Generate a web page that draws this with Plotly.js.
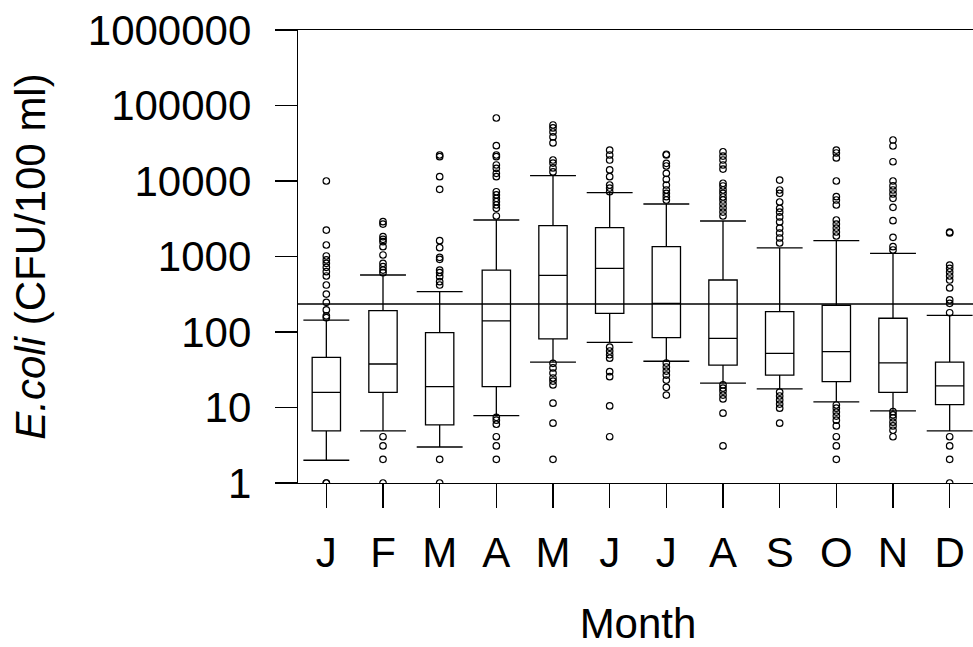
<!DOCTYPE html>
<html>
<head>
<meta charset="utf-8">
<script src="https://cdn.plot.ly/plotly-3.0.1.min.js"></script>
<style>
  html, body { margin: 0; padding: 0; overflow: hidden; background: #fff; }
  #chart { width: 980px; height: 647px; }
</style>
</head>
<body>
<div id="chart"></div>
<script>
// ---- Data ----
const months = ["Jan","Feb","Mar","Apr","May","Jun","Jul","Aug","Sep","Oct","Nov","Dec"];
const tickLabels = ["J","F","M","A","M","J","J","A","S","O","N","D"];

const lowerWhisker = [2, 4.9, 3, 7.8, 40, 73, 41, 21, 17.7, 11.9, 9, 4.9];
const q1Values     = [4.9, 15.9, 5.9, 18.9, 81, 177, 84, 36.5, 26.9, 22, 15.9, 10.9];
const medianValues = [15.9, 37.7, 18.9, 140, 564, 697, 240, 82.5, 52, 55, 39, 19.3];
const q3Values     = [46, 192, 98, 662, 2560, 2407, 1349, 488, 186, 226, 152, 40];
const upperWhisker = [144, 569, 342, 3043, 11750, 7000, 4960, 2952, 1297, 1619, 1102, 166];

const outlierValues = [
  // Jan
  [10000, 2240, 1420, 1016, 900, 813, 719, 629, 552, 419, 318, 247, 196, 164, 155, 1, 1],
  // Feb
  [2890, 2690, 1830, 1690, 1570, 1350, 1047, 813, 733, 662, 610, 4.1, 3.1, 2.06, 1],
  // Mar
  [22100, 21000, 11400, 7760, 1619, 1308, 975, 918, 662, 610, 540, 464, 419, 2.06, 1],
  // Apr
  [68300, 29400, 22100, 21000, 16300, 14700, 12650, 11400, 7210, 6530, 5900, 5320, 4810, 4350, 3440,
   7.4, 6.8, 6.0, 4.1, 3.1, 2.06],
  // May
  [55200, 50400, 44600, 38300, 31900, 18970, 17300, 14900, 13200,
   38.5, 33.4, 28.6, 24.6, 22.4, 19.9, 11.4, 6.2, 2.06],
  // Jun
  [25700, 22100, 18970, 14000, 11400, 8850, 8070, 7210,
   63, 56, 50, 45, 29.8, 25.6, 10.5, 4.1],
  // Jul
  [22600, 22100, 17150, 15800, 12650, 10540, 8850, 7600, 6870, 6200, 5600,
   38.8, 34.4, 30.4, 26.9, 23.1, 18.5, 14.6],
  // Aug
  [24400, 21400, 18970, 16300, 14400, 9330, 8590, 7600, 6870, 6140, 5600, 4960, 4390, 3880, 3440,
   19.9, 18.1, 16.5, 14.6, 13, 8.4, 3.1],
  // Sep
  [10300, 7600, 6870, 5270, 4350, 3880, 3340, 2865, 2383, 2047, 1758, 1510,
   16, 14.2, 12.6, 11.1, 9.8, 6.2],
  // Oct
  [25700, 23500, 20200, 10000, 6200, 5600, 4810, 3043, 2690, 2383, 2112, 1870,
   10.8, 9.8, 8.7, 7.7, 6.8, 5.7, 4.1, 3.1, 2.06],
  // Nov
  [34900, 29100, 18000, 10000, 8600, 7600, 6730, 5900, 4485, 2980, 1796, 1349, 1220,
   8.8, 8, 7.3, 6.4, 5.7, 5.0, 4.1],
  // Dec
  [2100, 2050, 771, 698, 623, 552, 488, 383, 266, 240, 180, 4.1, 3.1, 2.06, 1]
];

const standardValue = 235;
const yTickValues = [1, 10, 100, 1000, 10000, 100000, 1000000];
const yTickLabels = ["1", "10", "100", "1000", "10000", "100000", "1000000"];

// ---- Build traces ----
const idx = months.map((m, i) => i);
const FONT = "Liberation Sans, Arial, Helvetica, sans-serif";
const capHalf = 0.405;

const boxTrace = {
  type: "box",
  x: idx,
  q1: q1Values,
  median: medianValues,
  q3: q3Values,
  lowerfence: lowerWhisker,
  upperfence: upperWhisker,
  boxpoints: false,
  width: 0.5,
  whiskerwidth: 0,
  fillcolor: "rgba(0,0,0,0)",
  line: { color: "#000", width: 1.3 },
  hoverinfo: "skip",
  showlegend: false
};

const capX = [], capY = [];
idx.forEach(i => {
  capX.push(i - capHalf, i + capHalf, null, i - capHalf, i + capHalf, null);
  capY.push(upperWhisker[i], upperWhisker[i], null, lowerWhisker[i], lowerWhisker[i], null);
});
const capTrace = {
  type: "scatter", mode: "lines", x: capX, y: capY,
  line: { color: "#000", width: 1.3 }, hoverinfo: "skip", showlegend: false
};

const outX = [], outY = [];
outlierValues.forEach((vals, i) => vals.forEach(v => { outX.push(i); outY.push(v); }));
const outlierTrace = {
  type: "scatter", mode: "markers", x: outX, y: outY,
  marker: { symbol: "circle-open", size: 6.5, color: "#000", line: { width: 1.2, color: "#000" } },
  hoverinfo: "skip", showlegend: false, cliponaxis: true
};

const layout = {
  width: 980, height: 647,
  margin: { l: 298, r: 2, t: 30, b: 164 },
  paper_bgcolor: "#fff", plot_bgcolor: "#fff",
  font: { family: FONT, size: 42, color: "#000" },
  showlegend: false,
  xaxis: {
    range: [-0.5, 11.5],
    tickmode: "array", tickvals: idx, ticktext: tickLabels,
    ticks: "outside", ticklen: 24, tickwidth: 1.3, tickcolor: "#000",
    ticklabelstandoff: 8,
    showline: true, mirror: true, linecolor: "#000", linewidth: 1.3,
    showgrid: false, zeroline: false,
    tickfont: { family: FONT, size: 42, color: "#000" },
    title: { text: "Month", font: { family: FONT, size: 42, color: "#000" }, standoff: 49 }
  },
  yaxis: {
    type: "log", range: [0, 6],
    tickmode: "array", tickvals: yTickValues, ticktext: yTickLabels,
    ticks: "outside", ticklen: 22, tickwidth: 1.3, tickcolor: "#000",
    ticklabelstandoff: 15,
    showline: true, linecolor: "#000", linewidth: 1.3,
    showgrid: false, zeroline: false,
    tickfont: { family: FONT, size: 42, color: "#000" },
    title: { text: "<i>E.coli</i> (CFU/100 ml)", font: { family: FONT, size: 42, color: "#000" }, standoff: 29 }
  },
  shapes: [{
    type: "line", xref: "paper", x0: 0, x1: 1, yref: "y", y0: standardValue, y1: standardValue,
    line: { color: "#000", width: 1.3 }
  }]
};

Plotly.newPlot("chart", [boxTrace, capTrace, outlierTrace], layout, { displayModeBar: false, staticPlot: true });
</script>
</body>
</html>
